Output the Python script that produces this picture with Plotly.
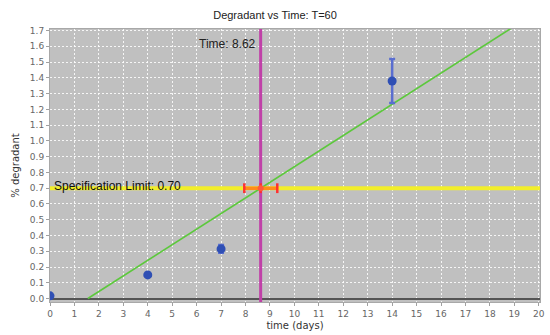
import plotly.graph_objects as go

# Stability data: degradant level per pull point
time_days = [0, 4, 7, 14]
degradant = [0.017, 0.15, 0.315, 1.38]
degradant_err = [0.0, 0.0, 0.025, 0.14]

# Linear fit of degradant vs time
fit_slope = 0.099
fit_intercept = -0.1535
fit_x = [1.55, 20.5]

# Specification limit and the time at which the fit crosses it
spec_limit = 0.70
cross_time = 8.62
cross_lo = 7.95
cross_hi = 9.30

x_ticks = list(range(0, 21))
y_ticks = [round(i * 0.1, 1) for i in range(0, 18)]

fig = go.Figure()

# specification limit line
fig.add_trace(go.Scatter(
    x=[-1, 21], y=[spec_limit, spec_limit], mode="lines",
    line=dict(color="#f2ee2a", width=4), hoverinfo="skip", showlegend=False))

# fitted line
fig.add_trace(go.Scatter(
    x=fit_x, y=[fit_slope * x + fit_intercept for x in fit_x], mode="lines",
    line=dict(color="#5cc83c", width=1.6), showlegend=False))

# vertical marker at crossing time
fig.add_trace(go.Scatter(
    x=[cross_time, cross_time], y=[-1, 3], mode="lines",
    line=dict(color="#c040a8", width=3), showlegend=False))

# confidence interval on crossing time
fig.add_trace(go.Scatter(
    x=[cross_lo, cross_hi], y=[spec_limit, spec_limit], mode="lines",
    line=dict(color="#ff8c1a", width=3.5), showlegend=False))
fig.add_trace(go.Scatter(
    x=[cross_lo, cross_time, cross_hi], y=[spec_limit] * 3, mode="markers",
    marker=dict(color="#ff3030", size=7, symbol="line-ns",
                line=dict(color="#ff3030", width=2.5)),
    showlegend=False))
fig.add_trace(go.Scatter(
    x=[cross_time], y=[spec_limit], mode="markers",
    marker=dict(color="#ff5a3a", size=6), showlegend=False))

# observed data with error bars
fig.add_trace(go.Scatter(
    x=time_days, y=degradant, mode="markers",
    marker=dict(color="#2f4fb4", size=9),
    error_y=dict(type="data", array=degradant_err, visible=True,
                 color="#5a6ed0", thickness=2.5, width=3),
    showlegend=False))

fig.add_annotation(x=cross_time, y=1.615, xref="x", yref="y",
                   text="Time: 8.62", showarrow=False, xanchor="right",
                   xshift=-3, font=dict(size=12, color="#222222",
                                        family="Liberation Sans"))
fig.add_annotation(x=0, y=spec_limit, xref="x", yref="y",
                   text="Specification Limit: 0.70", showarrow=False,
                   xanchor="left", yanchor="bottom", xshift=2, yshift=-7,
                   font=dict(size=12, color="#111111", family="Liberation Sans"))

axis_common = dict(
    showgrid=True, gridcolor="rgba(255,255,255,0.85)", griddash="2px,2px",
    gridwidth=1,
    showline=True, linecolor="#a8a8a8", mirror=True, linewidth=1,
    ticks="outside", ticklen=3, tickcolor="#a0a0a0",
    tickfont=dict(size=9, color="#666666", family="DejaVu Sans"),
    title_font=dict(size=10, color="#333333", family="DejaVu Sans"),
)

fig.update_xaxes(range=[0, 20.05], tickvals=x_ticks, ticktext=[str(v) for v in x_ticks],
                 title_text="time (days)", title_standoff=4, zeroline=False,
                 **axis_common)
fig.update_yaxes(range=[-0.022, 1.71], tickvals=y_ticks,
                 ticktext=[f"{v:.1f}" for v in y_ticks],
                 title_text="% degradant", title_standoff=8,
                 zeroline=True, zerolinecolor="#555555", zerolinewidth=1.5,
                 **axis_common)

fig.update_layout(
    width=550, height=335,
    margin=dict(l=50, r=5, t=29, b=33),
    paper_bgcolor="#ffffff", plot_bgcolor="#c0c0c0",
    title=dict(text="Degradant vs Time: T=60", x=0.5, xanchor="center",
               y=0.955, yanchor="middle",
               font=dict(size=11, color="#222222", family="Liberation Sans")),
)

fig.write_html("out.html")
